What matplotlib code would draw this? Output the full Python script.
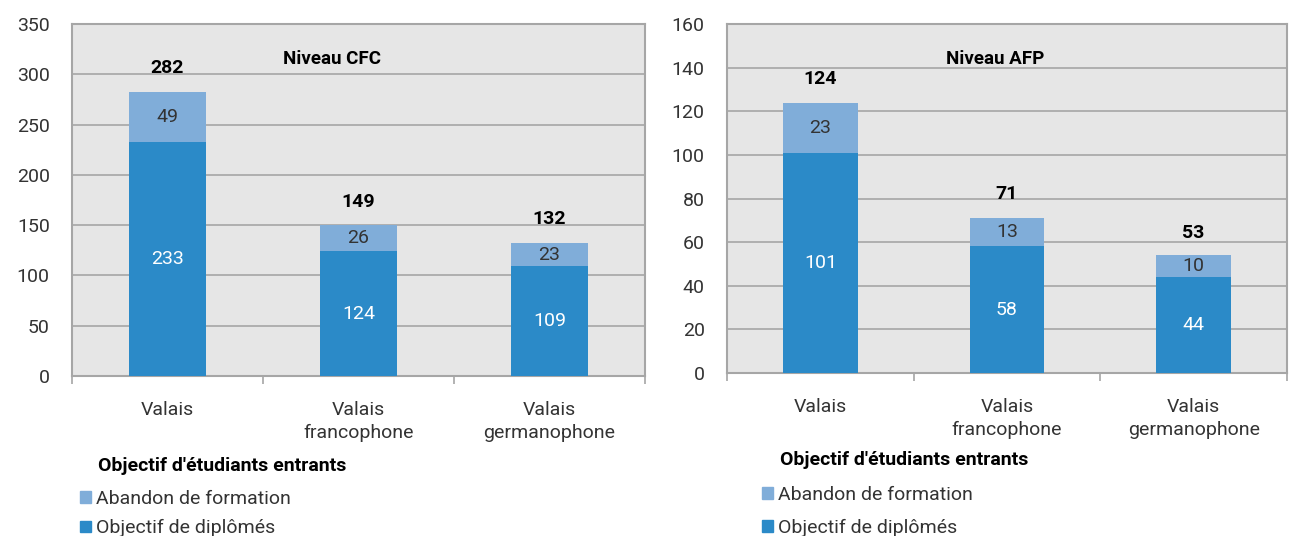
import matplotlib.pyplot as plt
from matplotlib.patches import Patch
import numpy as np

plt.rcParams['font.family'] = ['Roboto', 'DejaVu Sans']

categories = ["Valais", "Valais\nfrancophone", "Valais\ngermanophone"]

cfc_diplomes = [233, 124, 109]
cfc_abandon = [49, 26, 23]
cfc_total = [282, 149, 132]

afp_diplomes = [101, 58, 44]
afp_abandon = [23, 13, 10]
afp_total = [124, 71, 53]

DARK = '#2B8AC8'
LIGHT = '#80ADD9'
BG = '#E6E6E6'
GRID = '#A6A6A6'
TXT = '#333333'
FS = 14
W, H = 1290, 536


def panel(fig, rect, diplomes, abandon, total, title, title_x, ymax, ystep, offset,
		legend_pos, legend_gap, lspace):
	ax = fig.add_axes(rect)
	ax.set_facecolor(BG)
	x = np.arange(len(categories))
	ax.bar(x, diplomes, width=0.4, color=DARK, zorder=3)
	ax.bar(x, abandon, bottom=diplomes, width=0.4, color=LIGHT, zorder=3)
	for i in range(len(x)):
		ax.text(x[i], diplomes[i] / 2, str(diplomes[i]), ha='center', va='center',
			color='white', fontsize=FS, zorder=4)
		ax.text(x[i], diplomes[i] + abandon[i] / 2, str(abandon[i]), ha='center', va='center',
			color=TXT, fontsize=FS, zorder=4)
		ax.text(x[i], total[i] + offset, str(total[i]), ha='center', va='center',
			color='black', fontsize=FS, fontweight='bold', zorder=4)
	ax.set_xlim(-0.5, 2.5)
	ax.set_ylim(0, ymax)
	ax.set_yticks(np.arange(0, ymax + 1, ystep))
	ax.yaxis.grid(True, color=GRID, linewidth=1.2, zorder=0)
	ax.set_axisbelow(True)
	for s in ax.spines.values():
		s.set_color(GRID)
		s.set_linewidth(1.5)
	ax.tick_params(axis='y', length=0, labelsize=FS, pad=16, labelcolor=TXT)
	ax.set_xticks(x)
	ax.set_xticklabels(categories, linespacing=1.35)
	ax.tick_params(axis='x', length=0, labelsize=FS, pad=18, labelcolor=TXT)
	ax.set_xticks([-0.5, 0.5, 1.5, 2.5], minor=True)
	ax.tick_params(axis='x', which='minor', length=6, color=GRID, width=1.2, direction='out')
	ax.text(title_x, 0.9, title, transform=ax.transAxes, ha='center', va='center',
		fontsize=FS - 0.5, fontweight='bold')

	handles = [Patch(color=LIGHT), Patch(color=DARK)]
	fig.text(legend_pos[0] + 14 / W, legend_pos[1], "Objectif d'étudiants entrants",
		fontsize=FS, fontweight='bold', va='center', ha='left')
	leg = fig.legend(handles, ["Abandon de formation", "Objectif de diplômés"],
		loc='upper left', bbox_to_anchor=(legend_pos[0] - 0.003, legend_pos[1] - legend_gap / H),
		frameon=False, handlelength=0.55, handleheight=0.55, handletextpad=0.25,
		labelspacing=lspace, borderpad=0, borderaxespad=0, fontsize=FS)
	for t in leg.get_texts():
		t.set_color(TXT)
	return ax


fig = plt.figure(figsize=(W / 100, H / 100), dpi=100)

panel(fig, [72 / W, (H - 376) / H, 573 / W, 352 / H],
	cfc_diplomes, cfc_abandon, cfc_total, "Niveau CFC", 0.454, 350, 50, 24,
	(84 / W, 1 - 466 / H), 24, 0.58)
panel(fig, [727 / W, (H - 373) / H, 560 / W, 349 / H],
	afp_diplomes, afp_abandon, afp_total, "Niveau AFP", 0.479, 160, 20, 11,
	(766 / W, 1 - 460 / H), 26, 0.75)

fig.savefig('out.png', dpi=100, facecolor='white')
